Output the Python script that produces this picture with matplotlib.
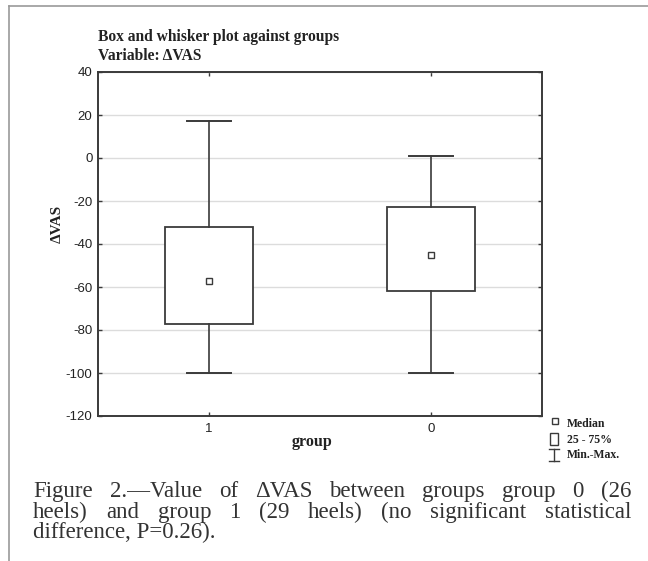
import matplotlib
matplotlib.use("Agg")
import matplotlib.pyplot as plt
from matplotlib.lines import Line2D
from matplotlib.patches import Rectangle

plt.rcParams["axes.unicode_minus"] = False

# ---- data ----
groups = ["1", "0"]
mins = [-100, -100]
q1s = [-77, -62]
medians = [-57, -45]
q3s = [-32, -23]
maxs = [17, 1]
yticks = [40, 20, 0, -20, -40, -60, -80, -100, -120]

title1 = "Box and whisker plot against groups"
title2 = "Variable: \u0394VAS"
ylabel = "\u0394VAS"
xlabel = "group"
legend_labels = ["Median", "25 - 75%", "Min.-Max."]
caption_lines = [
    "Figure 2.\u2014Value of  \u0394VAS between groups group 0 (26",
    "heels) and group 1 (29 heels) (no significant statistical",
    "difference, P=0.26).",
]

W, H = 648, 561
fig = plt.figure(figsize=(W / 100, H / 100), dpi=100)
fig.patch.set_facecolor("white")

def fx(x):
    return x / W

def fy(y):
    return 1 - y / H

LC = "#3a3a3a"
SERIF = ["Liberation Serif", "DejaVu Serif"]
SANS = ["Liberation Sans", "DejaVu Sans"]

# frame lines (left and top)
fig.add_artist(Line2D([fx(9), fx(9)], [fy(6), fy(561)], color="#9a9a9a", lw=1.2, transform=fig.transFigure))
fig.add_artist(Line2D([fx(9), fx(648)], [fy(6), fy(6)], color="#9a9a9a", lw=1.2, transform=fig.transFigure))

ax = fig.add_axes([fx(98), fy(416), fx(542) - fx(98), fy(72) - fy(416)])
positions = list(range(1, len(groups) + 1))
stats = []
for g, lo, a, m, b, hi in zip(groups, mins, q1s, medians, q3s, maxs):
    stats.append(dict(label=g, whislo=lo, q1=a, med=m, q3=b, whishi=hi, fliers=[]))

ax.bxp(stats, positions=positions, widths=0.4, capwidths=0.2, patch_artist=True,
       showfliers=False,
       boxprops=dict(facecolor="white", edgecolor=LC, linewidth=1.3),
       whiskerprops=dict(color=LC, linewidth=1.2),
       capprops=dict(color=LC, linewidth=1.4),
       medianprops=dict(linestyle="none"), zorder=3)
ax.plot(positions, medians, linestyle="none", marker="s", markersize=4.5,
        markerfacecolor="white", markeredgecolor=LC, markeredgewidth=1.0, zorder=4)

ax.set_xlim(0.5, 2.5)
ax.set_ylim(-120, 40)
ax.set_yticks(yticks)
ax.set_xticks(positions)
ax.set_xticklabels(groups)
ax.yaxis.grid(True, color="#dcdcdc", linewidth=1.0, zorder=0)
ax.set_axisbelow(True)
for s in ax.spines.values():
    s.set_color(LC)
    s.set_linewidth(1.4)
ax.tick_params(axis="both", which="both", direction="in", length=3, width=1, color=LC,
               labelsize=9.5, labelcolor="#222222", pad=4)
ax.tick_params(axis="y", right=True, direction="in")
ax.tick_params(axis="x", top=True, direction="in", pad=5)
for lab in ax.get_xticklabels() + ax.get_yticklabels():
    lab.set_family(SANS)

# titles
fig.text(fx(98), fy(37), title1, family=SERIF, weight="bold", fontsize=11.2, color="#222222",
         ha="left", va="center")
fig.text(fx(98), fy(56), title2, family=SERIF, weight="bold", fontsize=11.2, color="#222222",
         ha="left", va="center")
fig.text(fx(57), fy(224), ylabel, family=SERIF, weight="bold", fontsize=11, color="#222222",
         ha="center", va="center", rotation=90)
fig.text(fx(312), fy(442), xlabel, family=SERIF, weight="bold", fontsize=11.5, color="#222222",
         ha="center", va="center")

# legend
fig.add_artist(Line2D([fx(555)], [fy(421)], marker="s", markersize=4, markerfacecolor="white",
                      markeredgecolor=LC, markeredgewidth=1, linestyle="none", transform=fig.transFigure))
fig.add_artist(Rectangle((fx(550), fy(445)), fx(8), fy(433) - fy(445), facecolor="white",
                         edgecolor=LC, linewidth=1, transform=fig.transFigure))
fig.add_artist(Line2D([fx(554), fx(554)], [fy(449), fy(461)], color=LC, lw=1, transform=fig.transFigure))
fig.add_artist(Line2D([fx(549), fx(559)], [fy(449), fy(449)], color=LC, lw=1, transform=fig.transFigure))
fig.add_artist(Line2D([fx(549), fx(559)], [fy(461), fy(461)], color=LC, lw=1, transform=fig.transFigure))
for lab, yy in zip(legend_labels, [424, 440, 455]):
    fig.text(fx(567), fy(yy), lab, family=SERIF, weight="bold", fontsize=8.5, color="#222222",
             ha="left", va="center")

# caption, justified
x0, x1 = 33, 631
baselines = [497, 518, 538]
cap_kw = dict(family=SERIF, fontsize=16.5, color="#333333", va="baseline", ha="left")
fig.canvas.draw()
renderer = fig.canvas.get_renderer()
for i, (line, yb) in enumerate(zip(caption_lines, baselines)):
    words = line.split()
    if i == len(caption_lines) - 1:
        fig.text(fx(x0), fy(yb), line, **cap_kw)
        continue
    texts = [fig.text(0, 0, w, **cap_kw) for w in words]
    widths = [t.get_window_extent(renderer).width for t in texts]
    gap = (x1 - x0 - sum(widths)) / (len(words) - 1)
    x = x0
    for t, w in zip(texts, widths):
        t.set_position((fx(x), fy(yb)))
        x += w + gap

fig.savefig("out.png", dpi=100, facecolor="white")
